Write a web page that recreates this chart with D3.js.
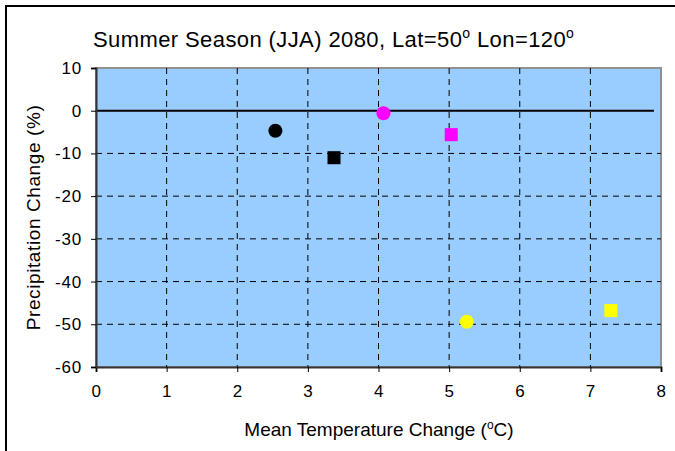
<!DOCTYPE html>
<html>
<head>
<meta charset="utf-8">
<script src="https://cdn.jsdelivr.net/npm/d3@7"></script>
<style>
  body { margin: 0; background: #fff; }
  text { font-family: "Liberation Sans", Arial, sans-serif; fill: #000; }
</style>
</head>
<body>
<script>
var width = 675;
var height = 451;

var margin = {top: 68, left: 96, right: 14, bottom: 84};

// data
var tempChange = [2.54, 3.37, 4.07, 5.03, 5.25, 7.29];
var precipChange = [-4.7, -11, -0.6, -5.6, -49.4, -46.8];
var markerShape = ["circle", "square", "circle", "square", "circle", "square"];
var markerColor = ["#000000", "#000000", "#ff00ff", "#ff00ff", "#ffff00", "#ffff00"];
var xTicks = [0, 1, 2, 3, 4, 5, 6, 7, 8];
var yTicks = [10, 0, -10, -20, -30, -40, -50, -60];
var zeroLineX = [0, 7.9];

var svg = d3.select("body")
  .append("svg")
  .attr("width", width)
  .attr("height", height);

// outer frame
svg.append("rect")
  .attr("x", 6).attr("y", 6)
  .attr("width", width + 10).attr("height", height + 10)
  .attr("fill", "none").attr("stroke", "#000").attr("stroke-width", 2);

var xScale = d3.scaleLinear()
  .domain([0, 8])
  .range([margin.left, width - margin.right]);

var yScale = d3.scaleLinear()
  .domain([-60, 10])
  .range([height - margin.bottom, margin.top]);

// plot area
svg.append("rect")
  .attr("x", xScale(0)).attr("y", yScale(10))
  .attr("width", xScale(8) - xScale(0))
  .attr("height", yScale(-60) - yScale(10))
  .attr("fill", "#99ccff")
  .attr("stroke", "#909090").attr("stroke-width", 2);

// grid
svg.append("g").selectAll("line")
  .data(xTicks.slice(1, -1))
  .enter().append("line")
  .attr("x1", function(d) { return xScale(d); })
  .attr("x2", function(d) { return xScale(d); })
  .attr("y1", yScale(10)).attr("y2", yScale(-60))
  .attr("stroke", "#000").attr("stroke-dasharray", "6,5");

svg.append("g").selectAll("line")
  .data(yTicks.filter(function(d) { return d < 0 && d > -60; }))
  .enter().append("line")
  .attr("x1", xScale(0)).attr("x2", xScale(8))
  .attr("y1", function(d) { return yScale(d); })
  .attr("y2", function(d) { return yScale(d); })
  .attr("stroke", "#000").attr("stroke-dasharray", "6,5");

// zero line
svg.append("line")
  .attr("x1", xScale(zeroLineX[0])).attr("x2", xScale(zeroLineX[1]))
  .attr("y1", yScale(0)).attr("y2", yScale(0))
  .attr("stroke", "#000").attr("stroke-width", 2);

// axes
var fmt = function(d) { return String(d); };

var xAxis = svg.append("g")
  .attr("transform", "translate(0," + yScale(-60) + ")")
  .call(d3.axisBottom(xScale).tickValues(xTicks).tickFormat(fmt).tickSize(5).tickPadding(13));

var yAxis = svg.append("g")
  .attr("transform", "translate(" + xScale(0) + ",0)")
  .call(d3.axisLeft(yScale).tickValues(yTicks).tickFormat(fmt).tickSize(5).tickPadding(9));

[xAxis, yAxis].forEach(function(ax) {
  ax.select(".domain").attr("stroke", "#333").attr("stroke-width", 2);
  ax.selectAll(".tick line").attr("stroke", "#000");
  ax.selectAll(".tick text")
    .style("font-family", "'Liberation Sans', Arial, sans-serif")
    .style("font-size", "17px")
    .style("letter-spacing", "0.8px")
    .attr("fill", "#000");
});

// markers
var pts = tempChange.map(function(t, i) {
  return {x: t, y: precipChange[i], shape: markerShape[i], color: markerColor[i]};
});

svg.append("g").selectAll("path")
  .data(pts)
  .enter().append("path")
  .attr("transform", function(d) {
    return "translate(" + xScale(d.x) + "," + yScale(d.y) + ")";
  })
  .attr("d", function(d) {
    return d.shape === "circle"
      ? d3.symbol(d3.symbolCircle, 155)()
      : d3.symbol(d3.symbolSquare, 170)();
  })
  .attr("fill", function(d) { return d.color; });

// title
var title = svg.append("text")
  .attr("x", 93).attr("y", 47)
  .style("font-size", "22px")
  .style("letter-spacing", "0.4px");
title.append("tspan").text("Summer Season (JJA) 2080, Lat=50");
title.append("tspan").attr("dy", -9).style("font-size", "14px").text("o");
title.append("tspan").attr("dy", 9).text(" Lon=120");
title.append("tspan").attr("dy", -9).style("font-size", "14px").text("o");

// axis titles
var xt = svg.append("text")
  .attr("x", 379).attr("y", 436)
  .attr("text-anchor", "middle")
  .style("font-size", "19px");
xt.append("tspan").text("Mean Temperature Change (");
xt.append("tspan").attr("dy", -7).style("font-size", "12px").text("o");
xt.append("tspan").attr("dy", 7).text("C)");

svg.append("text")
  .attr("transform", "translate(40," + ((yScale(10) + yScale(-60)) / 2) + ") rotate(-90)")
  .attr("text-anchor", "middle")
  .style("font-size", "19px")
  .style("letter-spacing", "0.6px")
  .text("Precipitation Change (%)");
</script>
</body>
</html>
